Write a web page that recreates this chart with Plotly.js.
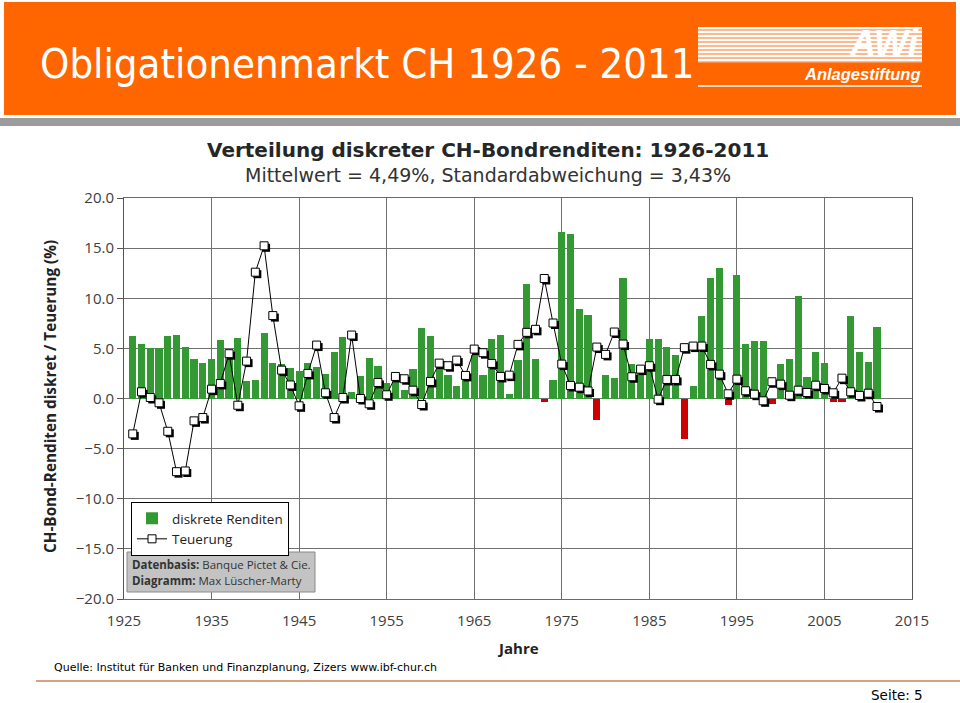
<!DOCTYPE html>
<html><head><meta charset="utf-8">
<script src="https://cdn.plot.ly/plotly-3.0.1.min.js"></script>
<style>html,body{margin:0;padding:0;background:#fff;}#chart{width:960px;height:703px;}</style>
</head><body><div id="chart"></div>
<script>
// ---- data ----
const years = [];
for (let y = 1926; y <= 2011; y++) years.push(y);

const renditen = [
  6.27, 5.4, 5.0, 5.0, 6.27, 6.33, 5.13, 3.9, 3.57, 3.97,
  5.8, 4.37, 6.03, 1.73, 1.83, 6.5, 3.57, 3.43, 3.07, 2.7,
  3.5, 3.13, 2.43, 4.63, 6.1, 0.67, 2.2, 4.03, 3.27, 1.5,
  1.9, 0.83, 2.9, 7.03, 6.27, 3.5, 2.33, 1.23, 2.17, 4.3,
  2.3, 5.9, 6.3, 0.4, 3.83, 11.43, 3.97, -0.3, 1.87, 16.6,
  16.37, 8.97, 8.33, -2.1, 2.37, 2.0, 12.07, 3.47, 3.0, 5.9,
  5.9, 5.1, 4.3, -4.0, 1.27, 8.23, 12.07, 13.03, -0.63, 12.3,
  5.4, 5.73, 5.73, -0.57, 3.43, 3.9, 10.23, 2.13, 4.63, 3.57,
  -0.33, -0.33, 8.23, 4.63, 3.67, 7.1
];

const teuerung = [
  -3.53, 0.67, 0.1, -0.43, -3.27, -7.3, -7.23, -2.23, -1.9, 0.93,
  1.5, 4.47, -0.67, 3.73, 12.6, 15.23, 8.27, 2.83, 1.35, -0.73,
  2.5, 5.33, 0.57, -1.9, 0.1, 6.33, 0.0, -0.53, 1.6, 0.37,
  2.2, 1.97, 0.83, -0.6, 1.7, 3.53, 3.27, 3.83, 2.3, 4.93,
  4.57, 3.5, 2.2, 2.33, 5.4, 6.6, 6.9, 11.97, 7.53, 3.43,
  1.3, 1.13, 0.75, 5.13, 4.4, 6.63, 5.43, 2.17, 2.93, 3.27,
  -0.07, 1.9, 1.9, 5.07, 5.23, 5.23, 3.4, 2.43, 0.47, 1.93,
  0.77, 0.43, -0.23, 1.67, 1.43, 0.33, 0.83, 0.6, 1.33, 1.0,
  0.57, 2.03, 0.67, 0.3, 0.53, -0.8
];

const xTicks = [1925, 1935, 1945, 1955, 1965, 1975, 1985, 1995, 2005, 2015];
const yTicks = [-20, -15, -10, -5, 0, 5, 10, 15, 20];

// ---- layout helpers (pixel -> paper) ----
const L = 124, R = 912, T = 198, B = 599;
const px = x => (x - L) / (R - L);
const py = y => (B - y) / (B - T);

const GREEN = '#339933', RED = '#cc0000';
const barColors = renditen.map(v => v < 0 ? RED : GREEN);

const xRange = [1925, 2015], yRange = [-20, 20];
const sx = 2 / ((R - L) / (xRange[1] - xRange[0]));
const sy = 2 / ((B - T) / (yRange[1] - yRange[0]));

const traces = [
  {
    type: 'bar', name: 'diskrete Renditen', x: years, y: renditen,
    width: 0.82, marker: {color: barColors, line: {width: 0}},
    xaxis: 'x', yaxis: 'y', hoverinfo: 'x+y'
  },
  {
    type: 'scatter', mode: 'markers', name: 'shadow', showlegend: false,
    x: years, y: teuerung, xaxis: 'x2', yaxis: 'y2',
    marker: {symbol: 'square', size: 8, color: '#000'}, hoverinfo: 'skip'
  },
  {
    type: 'scatter', mode: 'lines+markers', name: 'Teuerung',
    x: years, y: teuerung, xaxis: 'x3', yaxis: 'y3',
    line: {color: '#000', width: 1},
    marker: {symbol: 'square', size: 8, color: '#fff', line: {color: '#000', width: 1}}
  }
];

const shapes = [
  // orange header
  {type: 'rect', xref: 'paper', yref: 'paper', x0: px(4), x1: px(956), y0: py(2), y1: py(115),
   fillcolor: '#ff6600', line: {width: 0}, layer: 'below'},
  // gray band
  {type: 'rect', xref: 'paper', yref: 'paper', x0: px(0), x1: px(960), y0: py(118), y1: py(126),
   fillcolor: '#9c9c9c', line: {width: 0}, layer: 'below'},
  // logo backdrop
  {type: 'rect', xref: 'paper', yref: 'paper', x0: px(698), x1: px(922), y0: py(27), y1: py(62),
   fillcolor: '#ffffff', line: {width: 0}},
  // footer line
  {type: 'line', xref: 'paper', yref: 'paper', x0: px(36), x1: px(960), y0: py(681), y1: py(681),
   line: {color: '#d9a27f', width: 2}},
  // logo underline
  {type: 'line', xref: 'paper', yref: 'paper', x0: px(698), x1: px(922), y0: py(86), y1: py(86),
   line: {color: '#ffffff', width: 1.5}},
  // info box
  {type: 'rect', xref: 'paper', yref: 'paper', x0: px(127), x1: px(315), y0: py(552), y1: py(592),
   fillcolor: '#c3c3c3', line: {color: '#8a8a8a', width: 1}}
];
// logo stripes (orange gaps over the white block)
for (let k = 0; k < 9; k++) {
  const yy = 30 + k * 4;
  shapes.push({type: 'line', xref: 'paper', yref: 'paper', x0: px(698), x1: px(922), y0: py(yy), y1: py(yy),
    line: {color: '#ffa066', width: 1.4}});
}

const FONT = 'Open Sans, DejaVu Sans, sans-serif';
const VFONT = 'DejaVu Sans, Verdana, sans-serif';

const annotations = [
  {xref: 'paper', yref: 'paper', x: px(38), y: py(64), xanchor: 'left', yanchor: 'middle', showarrow: false,
   text: 'Obligationenmarkt CH 1926 - 2011', font: {family: 'DejaVu Sans Condensed, DejaVu Sans, sans-serif', size: 41.5, color: '#ffffff'}},
  {xref: 'paper', yref: 'paper', x: px(921), y: py(44), xanchor: 'right', yanchor: 'middle', showarrow: false,
   text: '<b><i>AWi</i></b>', font: {family: 'Liberation Sans, Arial, sans-serif', size: 36, color: '#ffffff'}},
  {xref: 'paper', yref: 'paper', x: px(923), y: py(74), xanchor: 'right', yanchor: 'middle', showarrow: false,
   text: '<b><i>Anlagestiftung</i></b>', font: {family: 'Liberation Sans, Arial, sans-serif', size: 16.5, color: '#ffffff'}},
  {xref: 'paper', yref: 'paper', x: px(488), y: py(150), xanchor: 'center', yanchor: 'middle', showarrow: false,
   text: '<b>Verteilung diskreter CH-Bondrenditen: 1926-2011</b>', font: {family: VFONT, size: 20, color: '#262626'}},
  {xref: 'paper', yref: 'paper', x: px(488), y: py(175), xanchor: 'center', yanchor: 'middle', showarrow: false,
   text: 'Mittelwert = 4,49%, Standardabweichung = 3,43%', font: {family: VFONT, size: 19, color: '#333333'}},
  {xref: 'paper', yref: 'paper', x: px(50), y: py(397), xanchor: 'center', yanchor: 'middle', showarrow: false,
   textangle: -90, text: '<b>CH-Bond-Renditen diskret / Teuerung (%)</b>', font: {family: FONT, size: 15.3, color: '#222222'}},
  {xref: 'paper', yref: 'paper', x: px(518), y: py(648), xanchor: 'center', yanchor: 'middle', showarrow: false,
   text: '<b>Jahre</b>', font: {family: FONT, size: 15, color: '#222222'}},
  {xref: 'paper', yref: 'paper', x: px(130), y: py(564), xanchor: 'left', yanchor: 'middle', showarrow: false,
   text: '<b>Datenbasis:</b> Banque Pictet & Cie.', font: {family: FONT, size: 11.5, color: '#333333'}},
  {xref: 'paper', yref: 'paper', x: px(130), y: py(580), xanchor: 'left', yanchor: 'middle', showarrow: false,
   text: '<b>Diagramm:</b> Max Lüscher-Marty', font: {family: FONT, size: 11.5, color: '#333333'}},
  {xref: 'paper', yref: 'paper', x: px(52), y: py(667), xanchor: 'left', yanchor: 'middle', showarrow: false,
   text: 'Quelle: Institut für Banken und Finanzplanung, Zizers www.ibf-chur.ch', font: {family: VFONT, size: 11, color: '#000000'}},
  {xref: 'paper', yref: 'paper', x: px(925), y: py(695), xanchor: 'right', yanchor: 'middle', showarrow: false,
   text: 'Seite: 5', font: {family: VFONT, size: 13.5, color: '#000000'}}
];

const layout = {
  width: 960, height: 703,
  margin: {l: L, r: 960 - R, t: T, b: 703 - B, pad: 0},
  paper_bgcolor: '#ffffff', plot_bgcolor: '#ffffff',
  showlegend: true,
  legend: {x: px(131), y: py(502), xanchor: 'left', yanchor: 'top', bgcolor: '#ffffff',
    bordercolor: '#000000', borderwidth: 1, font: {family: FONT, size: 13.5, color: '#222'},
    tracegroupgap: 0, itemwidth: 30},
  bargap: 0,
  xaxis: {range: xRange, tickvals: xTicks, ticktext: xTicks.map(String), showgrid: true,
    gridcolor: '#707070', gridwidth: 1, showline: true, mirror: true, linecolor: '#6a6a6a', linewidth: 1,
    ticks: '', ticklabelstandoff: 8, tickfont: {family: FONT, size: 15, color: '#404040'}, zeroline: false, fixedrange: true},
  yaxis: {range: yRange, tickvals: yTicks, tickformat: '.1f', showgrid: true,
    gridcolor: '#707070', gridwidth: 1, showline: true, mirror: true, linecolor: '#555555', linewidth: 1,
    ticks: 'outside', ticklen: 6, tickcolor: '#555555', tickfont: {family: FONT, size: 15, color: '#404040'},
    zeroline: true, zerolinecolor: '#707070', zerolinewidth: 1, fixedrange: true},
  xaxis2: {range: [xRange[0] - sx, xRange[1] - sx], overlaying: 'x', visible: false, fixedrange: true},
  yaxis2: {range: [yRange[0] + sy, yRange[1] + sy], overlaying: 'y', visible: false, fixedrange: true},
  xaxis3: {range: xRange, overlaying: 'x', visible: false, fixedrange: true},
  yaxis3: {range: yRange, overlaying: 'y', visible: false, fixedrange: true},
  shapes: shapes,
  annotations: annotations
};

Plotly.newPlot('chart', traces, layout, {displayModeBar: false, staticPlot: true});
</script>
</body></html>
